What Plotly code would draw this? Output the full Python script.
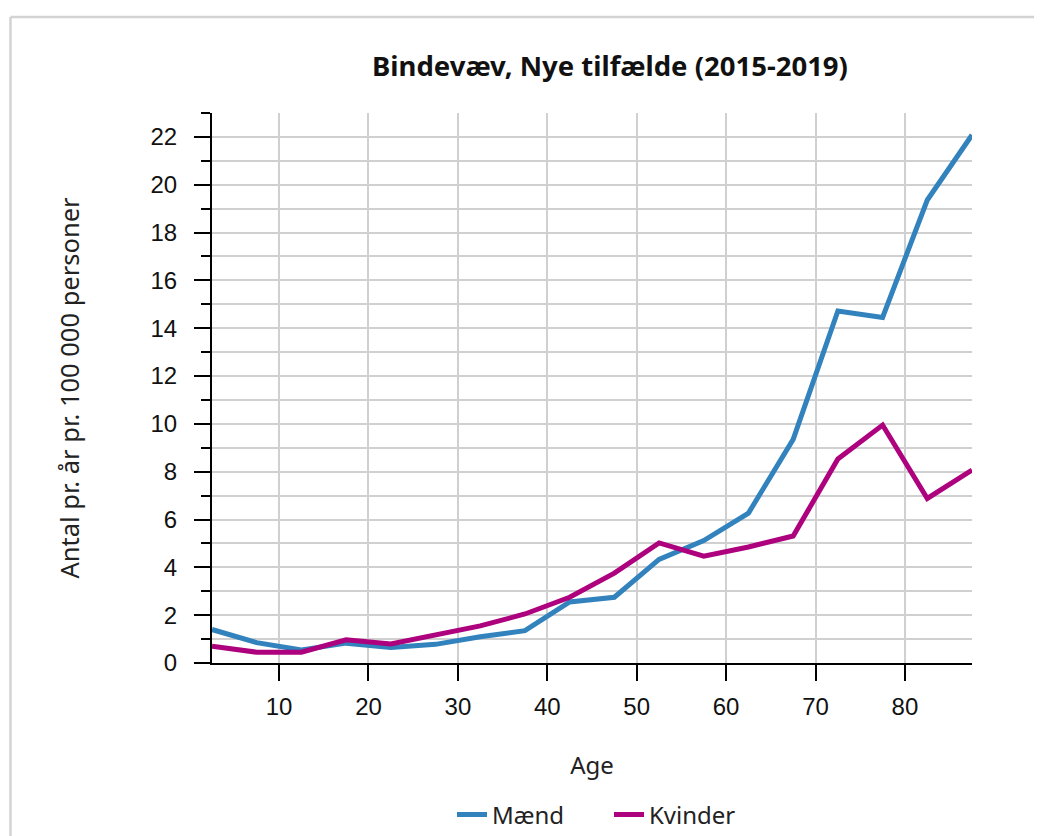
import plotly.graph_objects as go

age = [2.5, 7.5, 12.5, 17.5, 22.5, 27.5, 32.5, 37.5, 42.5, 47.5,
       52.5, 57.5, 62.5, 67.5, 72.5, 77.5, 82.5, 87.5]
maend = [1.4, 0.85, 0.55, 0.83, 0.65, 0.78, 1.1, 1.35, 2.55, 2.75,
         4.33, 5.12, 6.27, 9.35, 14.72, 14.45, 19.36, 22.08]
kvinder = [0.7, 0.45, 0.45, 0.97, 0.8, 1.15, 1.55, 2.05, 2.75, 3.76,
           5.02, 4.47, 4.85, 5.31, 8.53, 9.95, 6.88, 8.07]

title_text = "Bindevæv, Nye tilfælde (2015-2019)"
x_title = "Age"
y_title = "Antal pr. år pr. 100 000 personer"

W, H = 1042, 836
OFF = 8  # page body margin
L, R, T, B = 212 - OFF, W - (972 - OFF), 113 - OFF, H - (663 - OFF)
pw, ph = W - L - R, H - T - B

fig = go.Figure()
fig.add_trace(go.Scatter(x=age, y=maend, mode="lines", name="Mænd",
                         line=dict(color="#3182bd", width=5)))
fig.add_trace(go.Scatter(x=age, y=kvinder, mode="lines", name="Kvinder",
                         line=dict(color="#ae017e", width=5)))

title_font = "Source Sans Pro, Noto Sans, sans-serif"
tick_font = dict(family="Liberation Sans, Arial, sans-serif", size=24, color="#111")

fig.update_layout(
    width=W, height=H,
    margin=dict(l=L, r=R, t=T, b=B),
    paper_bgcolor="white", plot_bgcolor="white",
    title=dict(text="<b>" + title_text + "</b>", x=(610 - OFF) / W, xref="container",
               xanchor="center", y=1 - (66 - OFF) / H, yref="container", yanchor="middle",
               font=dict(family=title_font, size=27.5, color="#111")),
    showlegend=True,
    legend=dict(orientation="h", x=(452 - OFF) / W, xref="container", xanchor="left",
                y=1 - (815 - OFF) / H, yref="container", yanchor="middle",
                font=dict(family=title_font, size=24, color="#222"),
                entrywidth=112, entrywidthmode="pixels", tracegroupgap=0),
    xaxis=dict(range=[2.5, 87.5], tickvals=[10, 20, 30, 40, 50, 60, 70, 80],
               ticks="outside", ticklen=16, tickwidth=2, tickcolor="black",
               showline=True, linecolor="black", linewidth=2,
               showgrid=True, gridcolor="#d0d0d0", gridwidth=2,
               zeroline=False, tickfont=tick_font, ticklabelstandoff=5,
               title=dict(text=x_title, font=dict(family=title_font, size=24, color="#222"),
                          standoff=38)),
    yaxis=dict(range=[0, 23], tickvals=list(range(0, 23, 2)),
               ticks="outside", ticklen=16, tickwidth=2, tickcolor="black",
               showline=True, linecolor="black", linewidth=2,
               showgrid=True, gridcolor="#d0d0d0", gridwidth=2,
               zeroline=False, tickfont=tick_font, ticklabelstandoff=12,
               minor=dict(dtick=1, tick0=0, ticks="outside", ticklen=9, tickwidth=2,
                          tickcolor="black", showgrid=True, gridcolor="#d0d0d0", gridwidth=2),
               title=dict(text=y_title, font=dict(family=title_font, size=25.5, color="#222"),
                          standoff=64)),
)

# light frame around the chart (left and top edges visible)
fx = (10.5 - OFF - L) / pw
fy = (H - B - (17 - OFF)) / ph
fig.add_shape(type="line", xref="paper", yref="paper", x0=fx, x1=fx, y0=-0.5, y1=fy,
              line=dict(color="#d3d3d3", width=2.5))
fig.add_shape(type="line", xref="paper", yref="paper", x0=fx, x1=1.2, y0=fy, y1=fy,
              line=dict(color="#d3d3d3", width=2.5))

fig.write_html("out.html")
